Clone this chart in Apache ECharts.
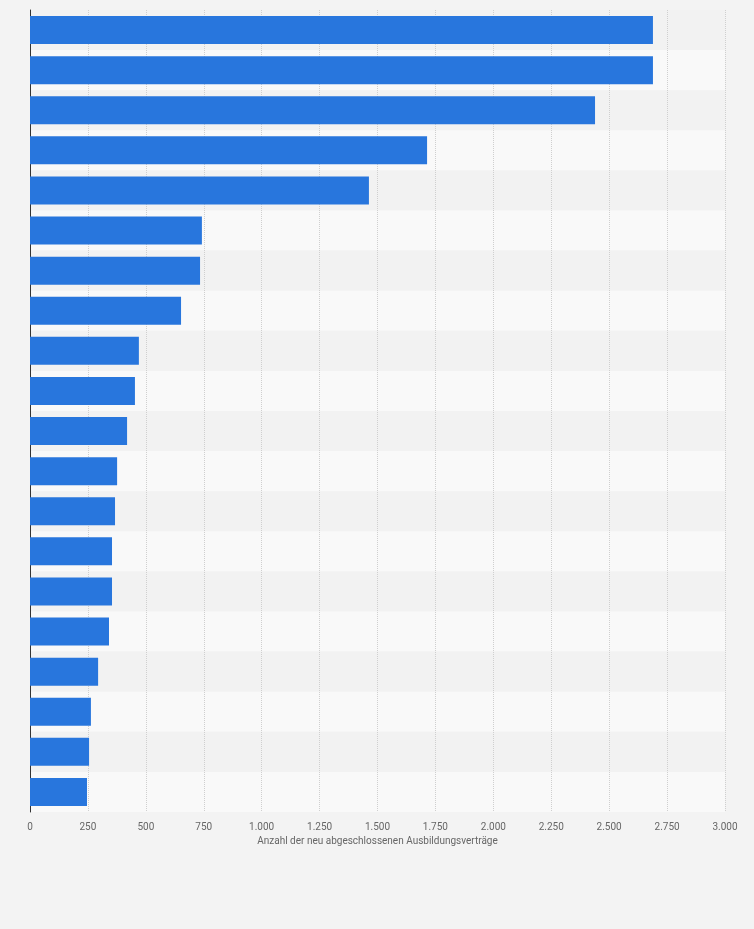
<!DOCTYPE html>
<html>
<head>
<meta charset="utf-8">
<script src="https://cdn.jsdelivr.net/npm/echarts@6/dist/echarts.min.js"></script>
<style>
  html, body { margin: 0; padding: 0; background: #f3f3f3; }
  #main { width: 754px; height: 929px; }
</style>
</head>
<body>
<div id="main"></div>
<script>
// categories have no visible labels in the reference
let categories = ["1", "2", "3", "4", "5", "6", "7", "8", "9", "10",
  "11", "12", "13", "14", "15", "16", "17", "18", "19", "20"];
let values = [2689, 2689, 2439, 1714, 1463, 742, 734, 652, 470, 453,
  419, 376, 367, 354, 354, 341, 294, 263, 255, 246];
let axisTitle = "Anzahl der neu abgeschlossenen Ausbildungsverträge";

var myChart = echarts.init(document.getElementById("main"));

var option = {
  backgroundColor: "#f3f3f3",
  animation: false,
  grid: { left: 30, right: 29, top: 10, bottom: 117 },
  xAxis: {
    type: "value",
    min: 0,
    max: 3000,
    interval: 250,
    name: axisTitle,
    nameLocation: "middle",
    nameGap: 20,
    nameTextStyle: { color: "#666", fontSize: 10, fontFamily: "Roboto" },
    axisLine: { show: false },
    axisTick: { show: false },
    axisLabel: {
      color: "#666",
      fontSize: 10,
      fontFamily: "Roboto",
      margin: 10,
      formatter: function (v) {
        return v.toString().replace(/\B(?=(\d{3})+(?!\d))/g, ".");
      },
    },
    splitLine: { lineStyle: { color: "#cfcfcf", type: "dotted" } },
  },
  yAxis: {
    type: "category",
    inverse: true,
    data: categories,
    axisLine: { show: true, lineStyle: { color: "#333", width: 1 } },
    axisTick: { show: false },
    axisLabel: { show: false },
    splitArea: { show: true, areaStyle: { color: ["#f2f2f2", "#f9f9f9"] } },
  },
  series: [
    {
      type: "bar",
      data: values,
      barWidth: 28,
      itemStyle: { color: "#2876dd" },
    },
  ],
};

myChart.setOption(option);
</script>
</body>
</html>
